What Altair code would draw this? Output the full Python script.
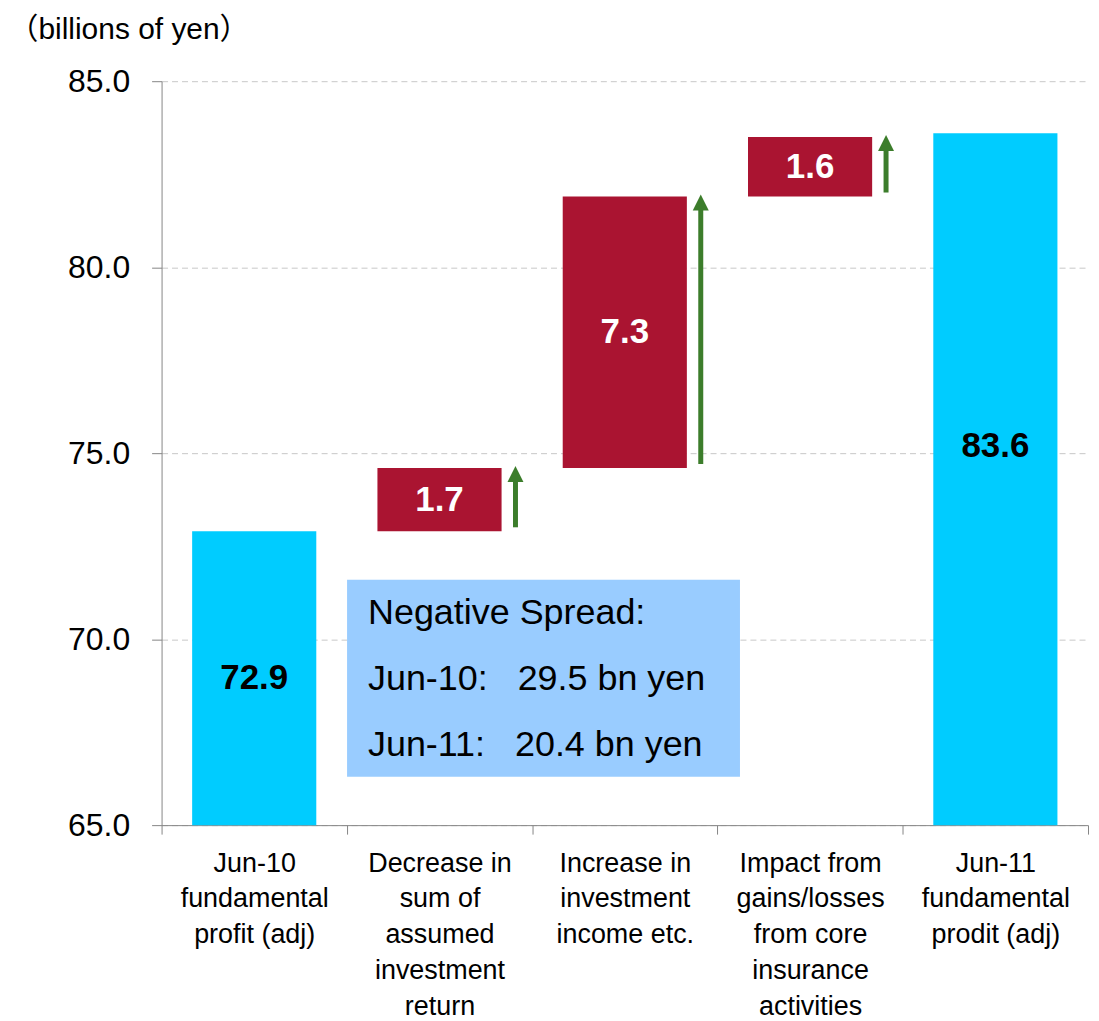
import altair as alt
import pandas as pd

# ---- data ----
categories = [
    "Jun-10\nfundamental\nprofit (adj)",
    "Decrease in\nsum of\nassumed\ninvestment\nreturn",
    "Increase in\ninvestment\nincome etc.",
    "Impact from\ngains/losses\nfrom core\ninsurance\nactivities",
    "Jun-11\nfundamental\nprodit (adj)",
]
values = [72.9, 1.7, 7.3, 1.6, 83.6]
kinds = ["total", "delta", "delta", "delta", "total"]
y_ticks = [65.0, 70.0, 75.0, 80.0, 85.0]
box_lines = [
    "Negative Spread:",
    "Jun-10:\u00a0\u00a0\u00a029.5 bn yen",
    "Jun-11:\u00a0\u00a0\u00a020.4 bn yen",
]
box_top, box_bottom = 71.6, 66.3
box_text_y = 70.4

Y_MIN, Y_MAX = 65.0, 85.0
FONT = "Liberation Sans, Arial, Noto Sans CJK JP"
CYAN = "#00CCFF"
RED = "#AA1431"
GREEN = "#3C7D2B"
BOX = "#99CCFF"

# ---- waterfall table ----
rows = []
cum = 0.0
for c, v, k in zip(categories, values, kinds):
    if k == "total":
        s, e = 0.0, v
        cum = v
    else:
        s, e = cum, cum + v
        cum = e
    rows.append(dict(category=c, value=v, kind=k, start=s, end=e,
                     label=f"{v:.1f}", mid=(max(s, Y_MIN) + e) / 2))
df = pd.DataFrame(rows)

xscale = alt.Scale(domain=categories, paddingInner=0, paddingOuter=0)
yscale = alt.Scale(domain=[Y_MIN, Y_MAX], zero=False, nice=False)

x_axis = alt.Axis(
    title=None, labelAngle=0, labelExpr="split(datum.label, '\\n')",
    labelFont=FONT, labelFontSize=27, labelLineHeight=36, labelColor="black",
    labelBaseline="top", labelPadding=16, tickBand="extent", tickSize=9,
    tickColor="#868686", domainColor="#868686", labelLimit=400,
)
y_axis = alt.Axis(
    values=y_ticks, format=".1f", labelFont=FONT, labelFontSize=32,
    labelColor="black", labelPadding=22, tickSize=10, tickColor="#868686",
    domainColor="#868686", grid=True, gridColor="#C8C8C8", gridDash=[6, 4],
    title="（billions of yen）", titleAngle=0, titleAlign="left",
    titleBaseline="alphabetic", titleX=-154, titleY=-43, titleFont=FONT,
    titleFontSize=30, titleFontWeight="normal", titleColor="black",
)

base = alt.Chart(df)

bars = base.mark_bar(width=alt.RelativeBandSize(0.67), clip=True).encode(
    x=alt.X("category:N", scale=xscale, axis=x_axis, sort=categories),
    y=alt.Y("start:Q", scale=yscale, axis=y_axis),
    y2="end:Q",
    color=alt.Color("kind:N", scale=alt.Scale(domain=["total", "delta"], range=[CYAN, RED]), legend=None),
)

labels_main = base.transform_filter(alt.datum.category != categories[-1]).mark_text(
    font=FONT, fontSize=35, fontWeight="bold", baseline="middle", align="center"
).encode(
    x=alt.X("category:N", scale=xscale, sort=categories),
    y=alt.Y("mid:Q", scale=yscale),
    text="label:N",
    color=alt.condition(alt.datum.kind == "total", alt.value("black"), alt.value("white")),
)
labels_last = base.transform_filter(alt.datum.category == categories[-1]).mark_text(
    font=FONT, fontSize=35, fontWeight="bold", baseline="middle", align="center", dy=-33, color="black"
).encode(
    x=alt.X("category:N", scale=xscale, sort=categories),
    y=alt.Y("mid:Q", scale=yscale),
    text="label:N",
)

deltas = base.transform_filter(alt.datum.kind == "delta")
shafts = deltas.mark_rule(color=GREEN, strokeWidth=5, yOffset=-4, y2Offset=12).encode(
    x=alt.X("category:N", scale=xscale, sort=categories, bandPosition=0.91),
    y=alt.Y("start:Q", scale=yscale),
    y2="end:Q",
)
heads = deltas.mark_point(
    shape="M-0.5,1 L0.5,1 L0,0 Z", filled=True, opacity=1, color=GREEN,
    size=1024, yOffset=-2, strokeWidth=0,
).encode(
    x=alt.X("category:N", scale=xscale, sort=categories, bandPosition=0.91),
    y=alt.Y("end:Q", scale=yscale),
)

box = alt.Chart(pd.DataFrame({"a": [0]})).mark_rect(color=BOX).encode(
    x=alt.value(186), x2=alt.value(580),
    y=alt.datum(box_top, scale=yscale), y2=alt.datum(box_bottom),
)
box_text = alt.Chart(pd.DataFrame({"a": [0]})).mark_text(
    font=FONT, fontSize=36, align="left", baseline="alphabetic", lineHeight=66, color="black"
).encode(
    x=alt.value(207), y=alt.datum(box_text_y, scale=yscale), text=alt.value(box_lines),
)

chart = alt.layer(bars, box, box_text, labels_main, labels_last, shafts, heads).properties(
    width=929, height=746, padding={"left": 0, "top": 5, "right": 2, "bottom": 0}
).configure_view(stroke=None)

chart.save("out.html", embed_options={"renderer": "svg", "actions": False})
